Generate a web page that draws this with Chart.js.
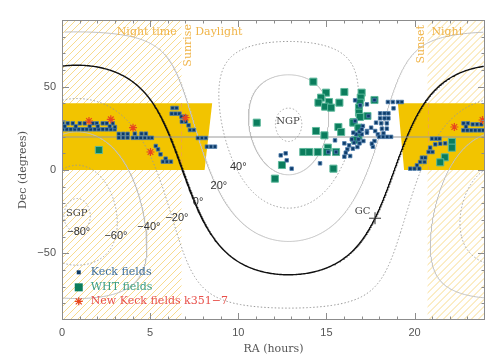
<!DOCTYPE html>
<html>
<head>
<meta charset="utf-8">
<script src="https://cdn.jsdelivr.net/npm/chart.js@4"></script>
<style>
  body { margin: 0; background: #fff; }
</style>
</head>
<body>
<canvas id="skyChart" width="504" height="360"></canvas>
<script>
// Field positions: [RA (hours), Dec (degrees)]
const keckFields = [
  [0.04,24.4],[0.27,24.4],[0.49,24.4],[0.72,24.4],[0.95,24.4],[1.18,24.4],[1.40,24.4],
  [1.63,24.4],[1.86,24.4],[2.08,24.4],[2.31,24.4],[2.54,24.4],[2.77,24.4],[2.99,24.4],
  [0.04,28.0],[0.32,28.0],[0.61,28.0],[1.01,28.0],[1.29,28.0],[1.74,28.0],[1.97,28.0],
  [2.31,28.0],[2.54,28.0],[2.88,28.0],
  [0.15,26.2],[0.78,26.2],[1.57,26.2],[2.03,26.2],[2.71,26.2],[3.00,25.8],
  [3.22,21.7],[3.47,21.7],[3.72,21.7],[3.22,19.4],[3.47,19.4],[3.72,19.4],
  [4.13,21.8],[4.51,21.8],[4.76,21.8],
  [4.02,19.3],[4.24,19.3],[4.47,19.3],[4.70,19.3],[4.93,19.3],[5.10,19.3],
  [5.32,14.4],[5.45,12.4],[5.59,9.4],[5.88,6.8],[5.72,5.0],[5.95,5.0],[6.18,5.0],
  [6.27,37.2],[6.50,37.2],[6.22,33.8],[6.44,33.8],[6.66,33.8],[6.78,32.0],[6.97,32.0],
  [6.80,29.0],[7.03,29.0],[7.18,26.8],[7.26,24.0],[7.48,24.0],
  [7.71,19.2],[7.94,19.2],[8.16,19.2],[8.22,14.0],[8.45,14.0],[8.68,14.0],
  [12.41,8.8],[12.69,10.0],[12.75,5.8],[13.03,0.8],[14.64,4.0],[15.49,17.8],
  [15.11,10.8],[15.55,10.8],
  [16.63,41.8],[16.92,38.8],[17.30,39.4],[17.73,42.0],
  [18.49,40.8],[18.77,40.8],[19.06,40.8],[19.28,40.8],[18.81,37.0],
  [18.05,34.0],[18.30,34.0],[18.52,34.0],[18.05,31.0],[18.30,31.0],[18.52,31.0],
  [17.82,28.4],[18.11,28.0],[18.43,28.0],[17.54,25.4],[18.15,24.8],[18.43,24.8],
  [17.30,23.4],[17.77,23.4],[17.92,21.4],[18.24,22.0],
  [17.99,19.9],[18.22,19.9],[18.45,19.9],[18.67,19.9],
  [17.73,17.4],[17.64,14.0],[17.58,15.8],
  [16.69,21.4],[16.82,18.4],[17.01,21.4],[17.10,17.4],[17.30,22.4],[16.53,22.4],
  [16.02,16.0],[16.29,14.8],[16.57,16.4],[16.88,16.0],
  [16.19,12.4],[16.50,12.8],[16.76,13.8],[16.10,10.4],[16.35,8.4],[16.02,8.0],
  [17.07,26.4],[16.63,29.4],[17.39,32.4],[16.88,23.0],[17.01,24.4],[16.44,18.4],
  [22.78,28.0],[23.03,28.0],[23.30,27.4],[23.55,27.4],[23.79,27.4],[22.92,26.0],
  [22.77,23.8],[23.00,23.8],[23.22,23.8],[23.45,23.8],[23.68,23.8],[23.90,23.8],
  [20.99,18.8],[21.22,18.8],[21.42,18.8],[21.18,15.4],[21.46,15.8],[21.74,16.0],
  [20.89,13.4],[20.80,10.8],[21.02,10.8],[20.42,7.4],[20.61,7.4],[20.32,4.8],
  [20.57,4.8],[20.14,2.8],[19.76,0.8],[20.00,0.8],[20.27,0.8]
];

const whtFields = [
  [2.09,12.0],[11.05,28.4],[14.26,53.0],[14.98,46.4],[14.70,43.4],[14.55,40.4],
  [15.15,40.8],[14.93,38.0],[15.27,37.4],[15.74,40.4],[16.02,46.8],
  [17.00,46.4],[16.95,43.4],[16.90,40.4],[16.85,37.4],[16.85,34.4],[16.90,31.8],
  [17.33,32.4],[17.73,42.0],[16.55,28.8],
  [15.68,25.8],[15.84,22.8],[14.89,20.8],[14.41,23.4],[16.53,28.4],[16.82,25.4],
  [16.82,20.4],[16.63,18.0],[15.08,13.4],[13.69,10.8],[14.03,10.8],[14.51,10.8],
  [15.02,10.8],[15.55,10.8],[12.48,3.0],[15.40,0.8],[12.08,-5.2],
  [22.12,16.8],[22.12,13.4],[21.72,7.6],[21.46,4.6]
];

const newKeckFields = [
  [1.53,29.4],[2.77,30.4],[4.03,25.4],[5.02,10.8],[7.01,31.4],[22.26,25.8],[23.86,30.0]
];

const galCentre = [17.76, -28.94];
const galLatitudes = [80, 60, 40, 20, 0, -20, -40, -60, -80];
const keckLatitude = 19.8;
const sunriseRA = 6.78;
const sunsetRA = 20.74;
const bandLeft = [[0, 0], [0, 40], [8.52, 40], [8.09, 0]];
const bandRight = [[19.06, 40], [24, 40], [24, 0], [19.41, 0]];
const xTickValues = [0, 5, 10, 15, 20];
const yTickValues = [-50, 0, 50];

const SERIF = '"DejaVu Serif", serif';
const SANS = '"Liberation Sans", sans-serif';

// galactic (l, b) -> equatorial (RA hours, Dec deg), J2000
const D2R = Math.PI / 180;
const raNGP = 192.85948 * D2R, decNGP = 27.12825 * D2R, lNCP = 122.93192 * D2R;
const galToEq = (l, b) => {
  const lr = l * D2R, br = b * D2R;
  const sd = Math.sin(br) * Math.sin(decNGP) + Math.cos(br) * Math.cos(decNGP) * Math.cos(lNCP - lr);
  const yy = Math.cos(br) * Math.sin(lNCP - lr);
  const xx = Math.sin(br) * Math.cos(decNGP) - Math.cos(br) * Math.sin(decNGP) * Math.cos(lNCP - lr);
  let ra = (raNGP + Math.atan2(yy, xx)) / D2R;
  ra = ((ra % 360) + 360) % 360;
  return { x: ra / 15, y: Math.asin(sd) / D2R };
};

const latitudeCurve = b => {
  const pts = [];
  let prev = null;
  for (let l = 0; l <= 360; l += 0.5) {
    const p = galToEq(l, b);
    if (prev && Math.abs(p.x - prev.x) > 12) pts.push({ x: p.x, y: null });
    pts.push(p);
    prev = p;
  }
  return pts;
};

const curveStyle = b => {
  if (b === 0) return { borderColor: '#111', borderWidth: 1.4, borderDash: [] };
  if (b === 20 || b === 60 || b === -40) return { borderColor: '#c2c2c2', borderWidth: 1, borderDash: [] };
  return { borderColor: '#9a9a9a', borderWidth: 1, borderDash: [1.5, 2] };
};

const toXY = p => ({ x: p[0], y: p[1] });

// Text drawn on the chart, in data coordinates
const labelItems = [
  { text: '40°', ra: 10.0, dec: 1.6 },
  { text: '20°', ra: 8.9, dec: -9.8 },
  { text: '0°', ra: 7.72, dec: -19.4 },
  { text: '\u221220°', ra: 6.52, dec: -29.0 },
  { text: '\u221240°', ra: 4.93, dec: -34.4 },
  { text: '\u221260°', ra: 3.06, dec: -39.8 },
  { text: '\u221280°', ra: 0.95, dec: -37.4 }
];

const bandsPlugin = {
  id: 'bands',
  beforeDatasetsDraw(chart) {
    const { ctx, chartArea: a, scales: { x, y } } = chart;
    ctx.save();
    ctx.beginPath();
    ctx.rect(a.left, a.top, a.width, a.height);
    ctx.clip();

    // hatched night-time regions
    const hatch = (r0, r1) => {
      const x0 = x.getPixelForValue(r0), x1 = x.getPixelForValue(r1);
      ctx.save();
      ctx.beginPath();
      ctx.rect(x0, a.top, x1 - x0, a.height);
      ctx.clip();
      ctx.strokeStyle = '#f8db8e';
      ctx.lineWidth = 1;
      ctx.beginPath();
      for (let k = -a.height; k < x1 - x0 + a.height; k += 7) {
        ctx.moveTo(x0 + k, a.bottom);
        ctx.lineTo(x0 + k + a.height, a.top);
      }
      ctx.stroke();
      ctx.restore();
    };
    hatch(0, sunriseRA);
    hatch(sunsetRA, 24);

    // observable declination bands
    ctx.fillStyle = '#f2c400';
    [bandLeft, bandRight].forEach(poly => {
      ctx.beginPath();
      poly.forEach((p, i) => {
        const px = x.getPixelForValue(p[0]), py = y.getPixelForValue(p[1]);
        if (i === 0) ctx.moveTo(px, py); else ctx.lineTo(px, py);
      });
      ctx.closePath();
      ctx.fill();
    });

    // sunrise / sunset markers inside the bands
    ctx.strokeStyle = '#f0a83c';
    ctx.setLineDash([4, 3]);
    [sunriseRA, sunsetRA].forEach(r => {
      const px = Math.round(x.getPixelForValue(r)) + 0.5;
      ctx.beginPath();
      ctx.moveTo(px, y.getPixelForValue(40));
      ctx.lineTo(px, y.getPixelForValue(0));
      ctx.stroke();
    });
    ctx.restore();
  }
};

const framePlugin = {
  id: 'frame',
  afterDatasetsDraw(chart) {
    const { ctx, chartArea: a, scales: { x, y } } = chart;
    ctx.save();
    ctx.strokeStyle = '#8c8c8c';
    ctx.lineWidth = 1;
    ctx.strokeRect(Math.round(a.left) + 0.5, Math.round(a.top) + 0.5,
      Math.round(a.width) - 1, Math.round(a.height) - 1);
    ctx.beginPath();
    for (let h = 1; h < 24; h++) {
      const px = Math.round(x.getPixelForValue(h)) + 0.5;
      const len = h % 5 === 0 ? 7 : 3.5;
      ctx.moveTo(px, a.bottom); ctx.lineTo(px, a.bottom - len);
      ctx.moveTo(px, a.top); ctx.lineTo(px, a.top + len);
    }
    for (let d = -80; d < 90; d += 10) {
      const py = Math.round(y.getPixelForValue(d)) + 0.5;
      const len = d % 50 === 0 ? 7 : 3.5;
      ctx.moveTo(a.left, py); ctx.lineTo(a.left + len, py);
      ctx.moveTo(a.right, py); ctx.lineTo(a.right - len, py);
    }
    ctx.stroke();

    // contour labels
    ctx.fillStyle = '#333';
    ctx.textAlign = 'center';
    ctx.textBaseline = 'middle';
    ctx.font = '11px ' + SANS;
    labelItems.forEach(t => ctx.fillText(t.text, x.getPixelForValue(t.ra), y.getPixelForValue(t.dec)));

    ctx.fillStyle = '#444';
    ctx.font = '10px ' + SERIF;
    ctx.fillText('NGP', x.getPixelForValue(12.82), y.getPixelForValue(29.2));
    ctx.fillText('SGP', x.getPixelForValue(0.84), y.getPixelForValue(-26));
    ctx.textAlign = 'right';
    ctx.fillText('GC', x.getPixelForValue(17.5), y.getPixelForValue(-24.8));

    // sunrise / sunset annotations
    ctx.fillStyle = '#f0b448';
    ctx.font = '11px ' + SERIF;
    ctx.textAlign = 'center';
    ctx.fillText('Night time', x.getPixelForValue(4.81), y.getPixelForValue(82.6));
    ctx.fillText('Daylight', x.getPixelForValue(8.9), y.getPixelForValue(82.6));
    ctx.fillText('Night', x.getPixelForValue(21.86), y.getPixelForValue(82.6));
    [['Sunrise', 7.14, 74.8], ['Sunset', 20.38, 75.4]].forEach(([txt, r, d]) => {
      ctx.save();
      ctx.translate(x.getPixelForValue(r), y.getPixelForValue(d));
      ctx.rotate(-Math.PI / 2);
      ctx.fillText(txt, 0, 0);
      ctx.restore();
    });

    // legend
    const lx = x.getPixelForValue(0.95);
    const tx = x.getPixelForValue(1.63);
    const rows = [
      { dec: -61.4, text: 'Keck fields', color: '#3d6d98' },
      { dec: -70.4, text: 'WHT fields', color: '#3a9c82' },
      { dec: -78.8, text: 'New Keck fields k351\u22127', color: '#e8504a' }
    ];
    ctx.textAlign = 'left';
    rows.forEach((r, i) => {
      const py = y.getPixelForValue(r.dec);
      if (i === 0) {
        ctx.fillStyle = '#0c3a68';
        ctx.fillRect(lx - 2, py - 2, 4, 4);
      } else if (i === 1) {
        ctx.fillStyle = '#0b7d5d';
        ctx.fillRect(lx - 4, py - 4, 8, 8);
      } else {
        ctx.strokeStyle = '#e8461e';
        ctx.lineWidth = 1.2;
        ctx.beginPath();
        ctx.moveTo(lx - 4, py); ctx.lineTo(lx + 4, py);
        ctx.moveTo(lx, py - 4); ctx.lineTo(lx, py + 4);
        ctx.moveTo(lx - 3, py - 3); ctx.lineTo(lx + 3, py + 3);
        ctx.moveTo(lx - 3, py + 3); ctx.lineTo(lx + 3, py - 3);
        ctx.stroke();
      }
      ctx.fillStyle = r.color;
      ctx.fillText(r.text, tx, py);
    });
    ctx.restore();
  }
};

const latitudeDatasets = galLatitudes.map(b => Object.assign({
  label: 'b = ' + b,
  data: latitudeCurve(b),
  showLine: true,
  pointRadius: 0,
  fill: false,
  tension: 0
}, curveStyle(b)));

new Chart(document.getElementById('skyChart'), {
  type: 'scatter',
  data: {
    datasets: [
      {
        label: 'New Keck fields k351-7',
        data: newKeckFields.map(toXY),
        pointStyle: 'star',
        pointRadius: 4,
        borderColor: '#e8461e',
        backgroundColor: '#e8461e',
        borderWidth: 1.2
      },
      {
        label: 'Keck fields',
        data: keckFields.map(toXY),
        pointStyle: 'rect',
        pointRadius: 2.5,
        backgroundColor: '#0c3a68',
        borderColor: '#4f7fad',
        borderWidth: 0.8
      },
      {
        label: 'WHT fields',
        data: whtFields.map(toXY),
        pointStyle: 'rect',
        pointRadius: 5,
        backgroundColor: '#0b7d5d',
        borderColor: '#5db89b',
        borderWidth: 1
      },
      {
        label: 'GC',
        data: [toXY(galCentre)],
        pointStyle: 'cross',
        pointRadius: 6,
        borderColor: '#333',
        borderWidth: 1
      },
      {
        label: 'Mauna Kea latitude',
        data: [{ x: 0, y: keckLatitude }, { x: 24, y: keckLatitude }],
        showLine: true,
        pointRadius: 0,
        borderColor: '#9a9a9a',
        borderWidth: 1
      },
      ...latitudeDatasets
    ]
  },
  options: {
    responsive: false,
    animation: false,
    layout: { padding: { left: 11, top: 20, right: 19, bottom: 0 } },
    plugins: {
      legend: { display: false },
      tooltip: { enabled: false }
    },
    scales: {
      x: {
        type: 'linear',
        min: 0,
        max: 24,
        grid: { display: false, drawTicks: false },
        border: { display: false },
        afterBuildTicks: s => { s.ticks = xTickValues.map(v => ({ value: v })); },
        afterFit: s => { s.height = 40; },
        ticks: { padding: 6, color: '#555', font: { family: SANS, size: 11 } },
        title: {
          display: true,
          text: 'RA (hours)',
          color: '#555',
          font: { family: SERIF, size: 11 },
          padding: { top: 0, bottom: 4 }
        }
      },
      y: {
        type: 'linear',
        min: -90,
        max: 90,
        grid: { display: false, drawTicks: false },
        border: { display: false },
        afterBuildTicks: s => { s.ticks = yTickValues.map(v => ({ value: v })); },
        afterFit: s => { s.width = 51; },
        ticks: {
          padding: 6,
          color: '#555',
          font: { family: SANS, size: 11 },
          callback: v => v < 0 ? '\u2212' + Math.abs(v) : String(v)
        },
        title: {
          display: true,
          text: 'Dec (degrees)',
          color: '#555',
          font: { family: SERIF, size: 11 },
          padding: { top: 6, bottom: 0 }
        }
      }
    }
  },
  plugins: [bandsPlugin, framePlugin]
});
</script>
</body>
</html>
